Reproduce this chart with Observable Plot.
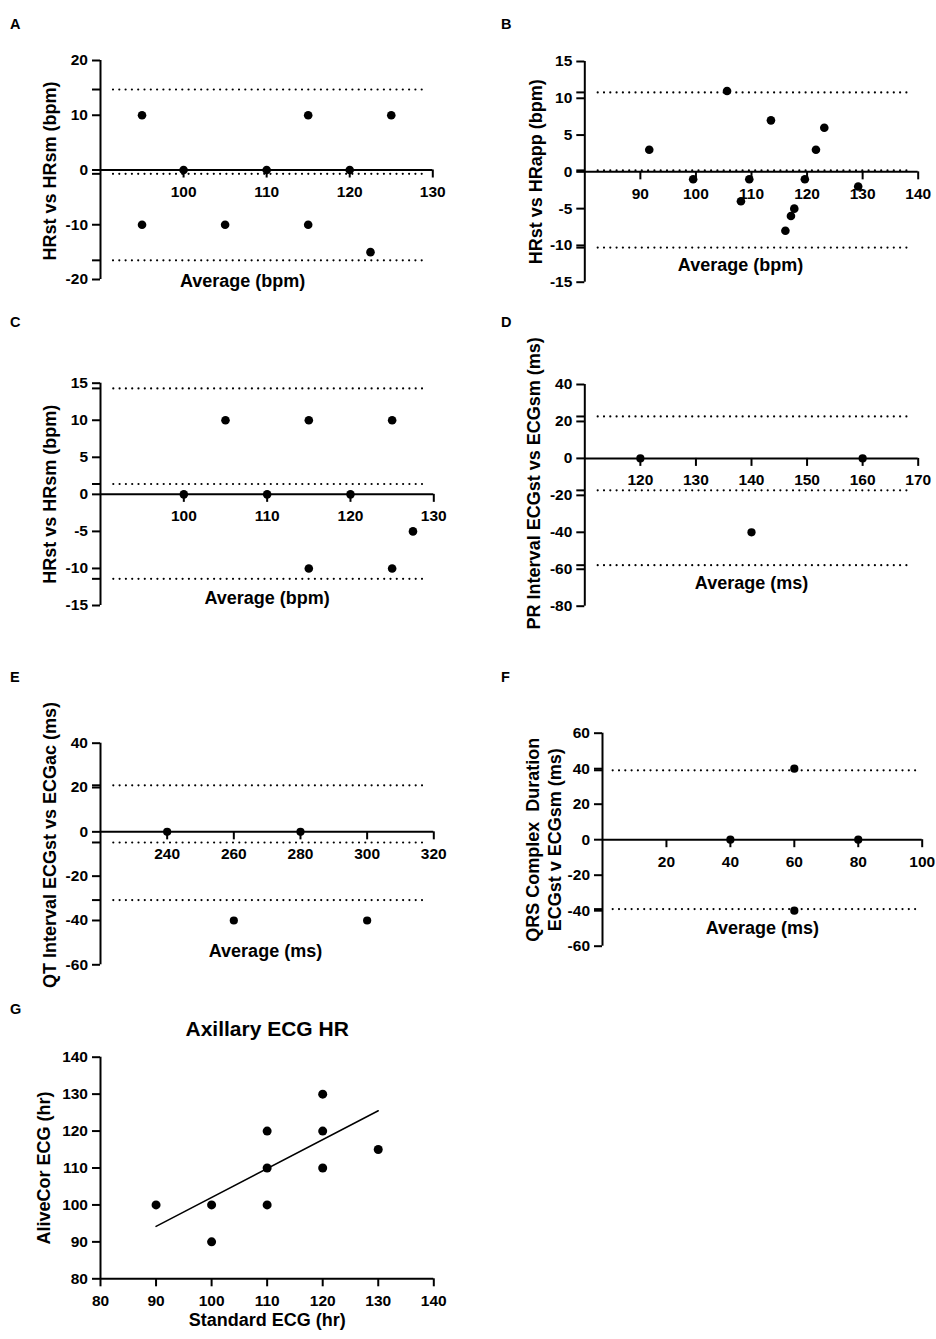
<!DOCTYPE html>
<html><head><meta charset="utf-8">
<script src="https://cdn.jsdelivr.net/npm/d3@7"></script>
<script src="https://cdn.jsdelivr.net/npm/@observablehq/plot@0.6"></script>
<style>
body{margin:0;background:#fff;}
#fig{position:relative;width:936px;height:1339px;background:#fff;font-family:"Liberation Sans",Arial,sans-serif;color:#000;overflow:hidden;}
.panel{position:absolute;}
.letter{position:absolute;font-weight:bold;font-size:14.5px;line-height:1;}
</style></head><body><div id="fig"></div>
<script>
// ---------- DATA ----------
// A
const aAvg = [95, 95, 100, 105, 110, 115, 115, 120, 122.5, 125];
const aDiff = [10, -10, 0, -10, 0, 10, -10, 0, -15, 10];
const aLimits = [14.7, -0.7, -16.5];
const aXTicks = [100, 110, 120, 130];
const aYTicks = [20, 10, 0, -10, -20];
// B
const bAvg = [91.6, 99.5, 105.6, 108.1, 109.6, 113.5, 116.1, 117.1, 117.7, 119.6, 121.6, 123.1, 129.2];
const bDiff = [3, -1, 11, -4, -1, 7, -8, -6, -5, -1, 3, 6, -2];
const bLimits = [10.8, 0.2, -10.3];
const bXTicks = [90, 100, 110, 120, 130, 140];
const bYTicks = [15, 10, 5, 0, -5, -10, -15];
// C
const cAvg = [100, 105, 110, 115, 115, 120, 125, 125, 127.5];
const cDiff = [0, 10, 0, 10, -10, 0, 10, -10, -5];
const cLimits = [14.3, 1.4, -11.4];
const cXTicks = [100, 110, 120, 130];
const cYTicks = [15, 10, 5, 0, -5, -10, -15];
// D
const dAvg = [120, 140, 160];
const dDiff = [0, -40, 0];
const dLimits = [22.7, -17.3, -57.8];
const dXTicks = [120, 130, 140, 150, 160, 170];
const dYTicks = [40, 20, 0, -20, -40, -60, -80];
// E
const eAvg = [240, 260, 280, 300];
const eDiff = [0, -40, 0, -40];
const eLimits = [21.0, -4.8, -30.8];
const eXTicks = [240, 260, 280, 300, 320];
const eYTicks = [40, 20, 0, -20, -40, -60];
// F
const fAvg = [40, 60, 60, 80];
const fDiff = [0, 40, -40, 0];
const fLimits = [39.1, -39.1];
const fXTicks = [20, 40, 60, 80, 100];
const fYTicks = [60, 40, 20, 0, -20, -40, -60];
// G
const gStandard = [90, 100, 100, 110, 110, 110, 120, 120, 120, 130];
const gAliveCor = [100, 100, 90, 120, 110, 100, 130, 120, 110, 115];
const gFitStandard = [90, 130];
const gFitAliveCor = [94.2, 125.5];
const gXTicks = [80, 90, 100, 110, 120, 130, 140];
const gYTicks = [80, 90, 100, 110, 120, 130, 140];

// ---------- HELPERS ----------
const FONT = '"Liberation Sans", Arial, Helvetica, sans-serif';
const TICK_FS = 15.5, LABEL_FS = 18;
const baseStyle = {fontFamily: FONT, fontWeight: "bold", color: "#000", background: "transparent", overflow: "visible"};
const fmt = d => String(d);
const fig = document.getElementById("fig");

function place(node, left, top) {
  const div = document.createElement("div");
  div.className = "panel";
  div.style.left = left + "px";
  div.style.top = top + "px";
  div.appendChild(node);
  fig.appendChild(div);
}
function letter(t, left, top) {
  const d = document.createElement("div");
  d.className = "letter";
  d.textContent = t;
  d.style.left = left + "px";
  d.style.top = top + "px";
  fig.appendChild(d);
}

function blandAltman(o) {
  const avg = o.avg, diff = o.diff;
  const pts = avg.map((x, i) => ({x, y: diff[i]}));
  const x0 = o.xDomain[0];
  return Plot.plot({
    width: o.width, height: o.height,
    marginLeft: o.m[0], marginRight: o.m[1], marginTop: o.m[2], marginBottom: o.m[3],
    x: {domain: o.xDomain, axis: null},
    y: {domain: o.yDomain, axis: null},
    style: baseStyle,
    marks: [
      Plot.ruleY(o.limits, {y: d => d, stroke: "#000", strokeWidth: 2.2, strokeDasharray: "0 6.3", strokeLinecap: "round", insetLeft: o.dotInset[0], insetRight: o.dotInset[1]}),
      Plot.ruleX([x0], {x: d => d, stroke: "#000", strokeWidth: 2}),
      Plot.ruleY([0], {y: d => d, stroke: "#000", strokeWidth: 2}),
      Plot.ruleX(o.xTicks, {x: d => d, y1: 0, y2: 0, insetBottom: -8, stroke: "#000", strokeWidth: 2}),
      Plot.ruleY([...o.yTicks, ...o.limits], {y: d => d, x1: x0, x2: x0, insetLeft: -8, stroke: "#000", strokeWidth: 2}),
      Plot.text(o.xTicks, {x: d => d, y: 0, dy: 22, text: fmt, fontSize: TICK_FS, fontWeight: "bold", fill: "#000"}),
      Plot.text(o.yTicks, {x: x0, y: d => d, dx: -12.5, textAnchor: "end", text: fmt, fontSize: TICK_FS, fontWeight: "bold", fill: "#000"}),
      Plot.dot(pts, {x: "x", y: "y", r: o.r || 4.3, fill: "#000", stroke: "none"}),
      Plot.text([o.xLabel], {frameAnchor: "bottom", textAnchor: "middle", dx: o.xl[0], dy: o.xl[1], text: d => d, fontSize: LABEL_FS, fontWeight: "bold", fill: "#000"}),
      Plot.text([o.yLabel], {frameAnchor: "left", textAnchor: "middle", rotate: -90, dx: o.yl[0], dy: o.yl[1], text: d => d, fontSize: LABEL_FS, fontWeight: "bold", fill: "#000", lineHeight: 1.22})
    ]
  });
}

// ---------- PANELS ----------
place(blandAltman({
  avg: aAvg, diff: aDiff, limits: aLimits, xTicks: aXTicks, yTicks: aYTicks,
  xDomain: [90, 130], yDomain: [-20, 20],
  width: 468, height: 310, m: [100, 35.7, 60, 31],
  dotInset: [13, 5.5], xl: [-24, 7], yl: [-51.7, 1],
  xLabel: "Average (bpm)", yLabel: "HRst vs HRsm (bpm)"
}), 0, 0);

place(blandAltman({
  avg: bAvg, diff: bDiff, limits: bLimits, xTicks: bXTicks, yTicks: bYTicks,
  xDomain: [80, 140], yDomain: [-15, 15],
  width: 468, height: 310, m: [116.3, 18.3, 61, 28.3],
  dotInset: [13.4, 5], xl: [-11, -11.7], yl: [-50, 0],
  xLabel: "Average (bpm)", yLabel: "HRst vs HRapp (bpm)"
}), 468, 0);

place(blandAltman({
  avg: cAvg, diff: cDiff, limits: cLimits, xTicks: cXTicks, yTicks: cYTicks,
  xDomain: [90, 130], yDomain: [-15, 15],
  width: 468, height: 330, m: [100, 34.7, 72.7, 35],
  dotInset: [13.3, 5], xl: [0, -1.7], yl: [-51.7, 0],
  xLabel: "Average (bpm)", yLabel: "HRst vs HRsm (bpm)"
}), 0, 310);

place(blandAltman({
  avg: dAvg, diff: dDiff, limits: dLimits, xTicks: dXTicks, yTicks: dYTicks,
  xDomain: [110, 170], yDomain: [-80, 40],
  width: 468, height: 330, m: [116.3, 18.3, 74, 34.3], r: 4.1,
  dotInset: [13.4, 5], xl: [0, -17.4], yl: [-51.6, -12],
  xLabel: "Average (ms)", yLabel: "PR Interval ECGst vs ECGsm (ms)"
}), 468, 310);

place(blandAltman({
  avg: eAvg, diff: eDiff, limits: eLimits, xTicks: eXTicks, yTicks: eYTicks,
  xDomain: [220, 320], yDomain: [-60, 40],
  width: 468, height: 340, m: [100, 34.7, 82.7, 35.7], r: 4.1,
  dotInset: [13.3, 5], xl: [-1.7, -8.3], yl: [-51.7, -9],
  xLabel: "Average (ms)", yLabel: "QT Interval ECGst vs ECGac (ms)"
}), 0, 660);

place(blandAltman({
  avg: fAvg, diff: fDiff, limits: fLimits, xTicks: fXTicks, yTicks: fYTicks,
  xDomain: [0, 100], yDomain: [-60, 60],
  width: 468, height: 340, m: [134, 14.3, 72.7, 54.3], r: 4.1,
  dotInset: [10.7, 5.7], xl: [0, -12.4], yl: [-60, 0],
  xLabel: "Average (ms)", yLabel: "QRS Complex  Duration\nECGst v ECGsm (ms)"
}), 468, 660);

// G : scatter with regression line
(function () {
  const pts = gStandard.map((x, i) => ({x, y: gAliveCor[i]}));
  const fit = gFitStandard.map((x, i) => ({x, y: gFitAliveCor[i]}));
  const xD = [80, 140], yD = [80, 140];
  const p = Plot.plot({
    width: 468, height: 339,
    marginLeft: 100, marginRight: 34.7, marginTop: 56.7, marginBottom: 60.7,
    x: {domain: xD, axis: null},
    y: {domain: yD, axis: null},
    style: baseStyle,
    marks: [
      Plot.ruleX([xD[0]], {x: d => d, stroke: "#000", strokeWidth: 2}),
      Plot.ruleY([yD[0]], {y: d => d, stroke: "#000", strokeWidth: 2}),
      Plot.ruleX(gXTicks, {x: d => d, y1: yD[0], y2: yD[0], insetBottom: -8, stroke: "#000", strokeWidth: 2}),
      Plot.ruleY(gYTicks, {y: d => d, x1: xD[0], x2: xD[0], insetLeft: -8, stroke: "#000", strokeWidth: 2}),
      Plot.text(gXTicks, {x: d => d, y: yD[0], dy: 22, text: fmt, fontSize: TICK_FS, fontWeight: "bold", fill: "#000"}),
      Plot.text(gYTicks, {x: xD[0], y: d => d, dx: -12.5, textAnchor: "end", text: fmt, fontSize: TICK_FS, fontWeight: "bold", fill: "#000"}),
      Plot.line(fit, {x: "x", y: "y", stroke: "#000", strokeWidth: 1.5}),
      Plot.dot(pts, {x: "x", y: "y", r: 4.5, fill: "#000", stroke: "none"}),
      Plot.text(["Axillary ECG HR"], {frameAnchor: "top", textAnchor: "middle", dy: -36, text: d => d, fontSize: 21, fontWeight: "bold", fill: "#000"}),
      Plot.text(["Standard ECG (hr)"], {frameAnchor: "bottom", textAnchor: "middle", dy: 46.7, text: d => d, fontSize: LABEL_FS, fontWeight: "bold", fill: "#000"}),
      Plot.text(["AliveCor ECG (hr)"], {frameAnchor: "left", textAnchor: "middle", rotate: -90, dx: -56.7, text: d => d, fontSize: LABEL_FS, fontWeight: "bold", fill: "#000"})
    ]
  });
  place(p, 0, 1000);
})();

// panel letters
letter("A", 10, 17);
letter("B", 501, 17);
letter("C", 10, 315);
letter("D", 501, 315);
letter("E", 10, 669.5);
letter("F", 501, 669.5);
letter("G", 10, 1002);
</script>
</body></html>
